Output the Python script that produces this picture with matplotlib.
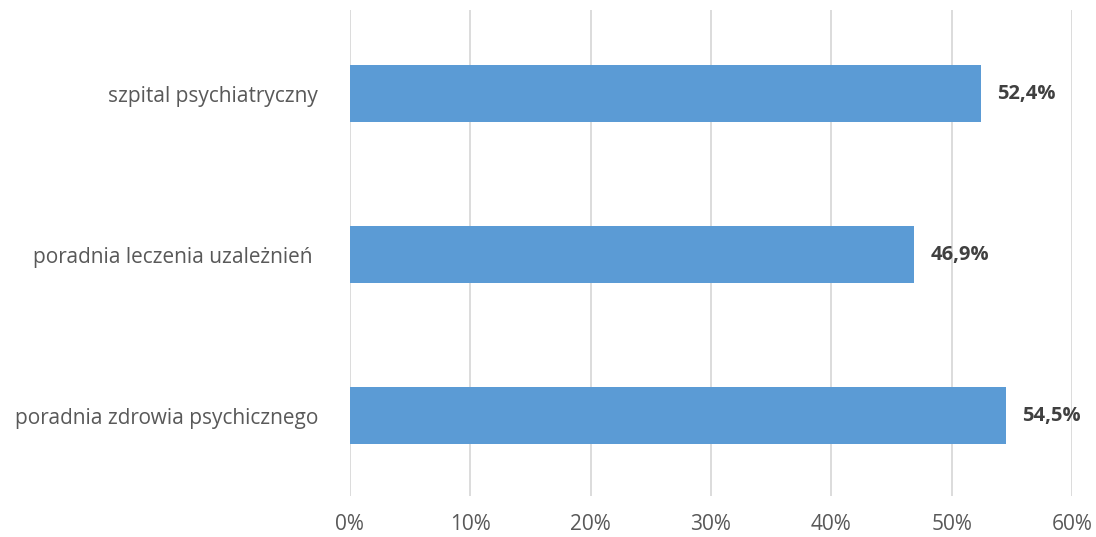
import matplotlib.pyplot as plt
from matplotlib import font_manager as fm
from matplotlib.ticker import FuncFormatter

categories = ["poradnia zdrowia psychicznego", "poradnia leczenia uzależnień", "szpital psychiatryczny"]
values = [54.5, 46.9, 52.4]
xticks = [0, 10, 20, 30, 40, 50, 60]


def font_file(name):
    for f in fm.fontManager.ttflist:
        if f.fname.endswith(name):
            return f.fname
    return None


reg_path = font_file("OpenSans-Regular.ttf")
bold_path = font_file("OpenSans-Bold.ttf")
regular = fm.FontProperties(fname=reg_path, size=15) if reg_path else fm.FontProperties(family='Open Sans', size=15)
bold = fm.FontProperties(fname=bold_path, size=14.5) if bold_path else fm.FontProperties(family='Open Sans', weight='bold', size=14.5)

fig = plt.figure(figsize=(10.96, 5.37), dpi=100)
ax = fig.add_axes([0.3193, 0.0764, 0.6588, 0.905])

y = range(len(categories))
ax.barh(y, values, height=0.355, color='#5b9bd5', zorder=3)

for yi, v in zip(y, values):
    ax.annotate(f"{v:.1f}%".replace('.', ','), (v, yi), xytext=(12, 0), textcoords='offset points',
                va='center', ha='left', fontproperties=bold, color='#404040')

ax.set_xlim(0, 60)
ax.set_ylim(-0.5, 2.52)
ax.set_xticks(xticks)
ax.xaxis.set_major_formatter(FuncFormatter(lambda v, p: f"{int(v)}%"))
ax.set_yticks(list(y))
ax.set_yticklabels([c + " " if c.startswith("poradnia leczenia") else c for c in categories])
ax.tick_params(axis='x', length=0, pad=13, labelcolor='#595959')
ax.tick_params(axis='y', length=0, pad=23, labelcolor='#595959')
for lab in ax.get_xticklabels() + ax.get_yticklabels():
    lab.set_fontproperties(regular)
ax.grid(axis='x', color='#d9d9d9', linewidth=1.3, zorder=0)
for s in ax.spines.values():
    s.set_visible(False)

fig.savefig("out.png", dpi=100)
